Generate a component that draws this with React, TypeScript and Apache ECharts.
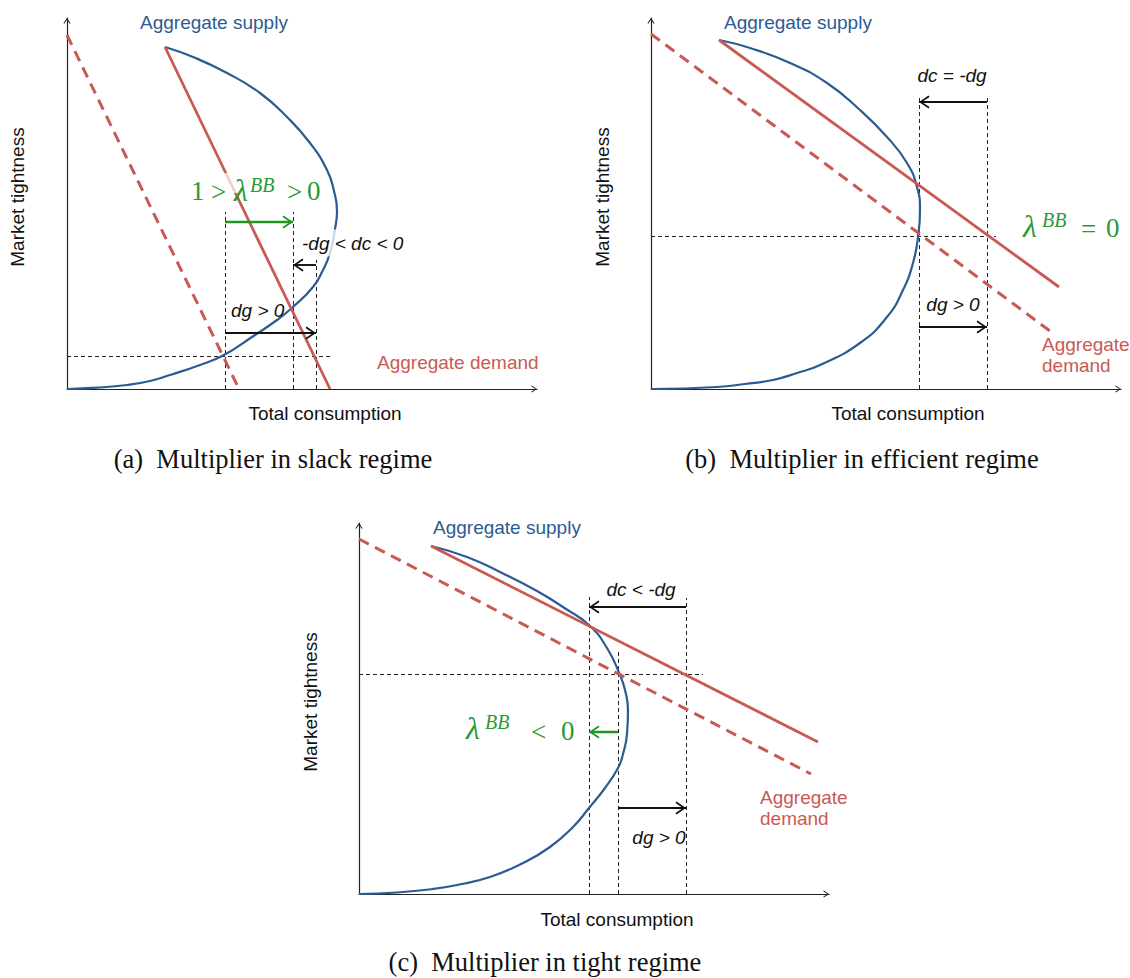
import React, { useEffect, useRef } from "react";
import * as echarts from "echarts";

// ---------------- Panel (a): slack regime ----------------
const supplyAX = [98, 126, 160, 193, 220, 243, 260, 267, 270, 268, 263, 256, 246, 226, 210, 185, 157, 133, 103, 83, 60, 30, 0];
const supplyAY = [342, 332, 316, 296, 272, 246, 219, 198, 178, 160, 136, 119, 102, 82, 69, 52, 34, 24, 14, 8, 4, 1.3, 0];
const demandAX = [98, 263];
const demandAY = [342, 0];
const shiftAX = [0, 172];
const shiftAY = [354, 0];
const levelA = 33;
const levelEndA = 265;
const guideAX = [158, 226, 249];
const guideATop = [177, 177, 129];
const blackArrowAFrom = [158, 249];
const blackArrowATo = [249, 226];
const blackArrowAY = [56, 124];
const greenArrowAFrom = [158];
const greenArrowATo = [226];
const greenArrowAY = [167];

// ---------------- Panel (b): efficient regime ----------------
const supplyBX = [68, 99, 139, 176, 209, 236, 256, 266, 269, 267, 262, 252, 236, 209, 169, 146, 122, 94, 66, 0];
const supplyBY = [349, 341, 326, 306, 279, 252, 226, 202, 179, 152, 126, 99, 72, 46, 24, 16, 9, 5, 2, 0];
const demandBX = [68, 408];
const demandBY = [349, 102];
const shiftBX = [0, 403];
const shiftBY = [355, 55];
const levelB = 153;
const levelEndB = 345;
const guideBX = [268, 336];
const guideBTop = [292, 292];
const blackArrowBFrom = [336, 268];
const blackArrowBTo = [268, 336];
const blackArrowBY = [287, 62];
const greenArrowBFrom: number[] = [];
const greenArrowBTo: number[] = [];
const greenArrowBY: number[] = [];

// ---------------- Panel (c): tight regime ----------------
const supplyCX = [72, 108, 141, 178, 207, 230, 248, 261, 266, 269, 268, 264, 259, 246, 230, 214, 191, 164, 131, 98, 74, 38, 0];
const supplyCY = [348, 337, 322, 303, 285, 269, 246, 219, 204, 184, 160, 140, 126, 106, 86, 67, 47, 31, 17, 9, 5, 1.5, 0];
const demandCX = [72, 459];
const demandCY = [348, 152];
const shiftCX = [0, 452];
const shiftCY = [355, 120];
const levelC = 220;
const levelEndC = 344;
const guideCX = [230, 259, 327];
const guideCTop = [297, 244, 296];
const blackArrowCFrom = [327, 259];
const blackArrowCTo = [230, 327];
const blackArrowCY = [287, 86];
const greenArrowCFrom = [259];
const greenArrowCTo = [230];
const greenArrowCY = [162];

const X_MAX = 470;
const Y_MAX = 371;

const BLUE = "#2c5b94";
const RED = "#c95a53";
const GREEN_LINE = "#1a981f";
const GREEN_TEXT = "#2b9a34";
const BLACK = "#111111";
const SANS = "'Liberation Sans', Arial, Helvetica, sans-serif";
const SERIF = "'Liberation Serif', 'Times New Roman', serif";

// chevron whose tip sits at the centre of its (square) bounding box
const CHEVRON =
  "path://M0,0 L6.5,9.5 L5,10.5 L0,3 L-5,10.5 L-6.5,9.5 Z M-11,-11 L-10.99,-11 L-11,-10.99 Z M11,11 L10.99,11 L11,10.99 Z";

const zip = (xs: number[], ys: number[]) => xs.map((x, i) => [x, ys[i]]);

const panels = [
  {
    grid: { left: 67, top: 18 },
    supply: zip(supplyAX, supplyAY),
    demand: zip(demandAX, demandAY),
    shift: zip(shiftAX, shiftAY),
    level: levelA,
    levelEnd: levelEndA,
    gx: guideAX,
    gtop: guideATop,
    bFrom: blackArrowAFrom,
    bTo: blackArrowATo,
    bY: blackArrowAY,
    gFrom: greenArrowAFrom,
    gTo: greenArrowATo,
    gY: greenArrowAY,
  },
  {
    grid: { left: 651, top: 18 },
    supply: zip(supplyBX, supplyBY),
    demand: zip(demandBX, demandBY),
    shift: zip(shiftBX, shiftBY),
    level: levelB,
    levelEnd: levelEndB,
    gx: guideBX,
    gtop: guideBTop,
    bFrom: blackArrowBFrom,
    bTo: blackArrowBTo,
    bY: blackArrowBY,
    gFrom: greenArrowBFrom,
    gTo: greenArrowBTo,
    gY: greenArrowBY,
  },
  {
    grid: { left: 359, top: 523 },
    supply: zip(supplyCX, supplyCY),
    demand: zip(demandCX, demandCY),
    shift: zip(shiftCX, shiftCY),
    level: levelC,
    levelEnd: levelEndC,
    gx: guideCX,
    gtop: guideCTop,
    bFrom: blackArrowCFrom,
    bTo: blackArrowCTo,
    bY: blackArrowCY,
    gFrom: greenArrowCFrom,
    gTo: greenArrowCTo,
    gY: greenArrowCY,
  },
];

type TxtOpt = {
  size?: number;
  color?: string;
  italic?: boolean;
  family?: string;
  align?: string;
  rotation?: number;
  bg?: string;
  pad?: number[];
};

function txt(text: string, x: number, y: number, o: TxtOpt = {}) {
  const align = o.align || "left";
  const style: any = {
    text,
    fill: o.color || BLACK,
    fontSize: o.size || 19,
    fontFamily: o.family || SANS,
    fontStyle: o.italic ? "italic" : "normal",
    align,
    textAlign: align,
    verticalAlign: "middle",
    textVerticalAlign: "middle",
  };
  if (o.bg) {
    style.backgroundColor = o.bg;
    style.padding = o.pad || [0, 0, 0, 0];
  }
  return {
    type: "text",
    x,
    y,
    rotation: o.rotation || 0,
    z: 100,
    silent: true,
    style,
  };
}

const math = (t: string, x: number, y: number) =>
  txt(t, x, y, { size: 27, family: SERIF, color: GREEN_TEXT });
const lam = (x: number, y: number) =>
  txt("λ", x, y, { size: 32, family: SERIF, color: GREEN_TEXT, italic: true });
const sup = (x: number, y: number) =>
  txt("BB", x, y, { size: 20, family: SERIF, color: GREEN_TEXT, italic: true });

function buildOption() {
  const grid = panels.map((p) => ({
    left: p.grid.left,
    top: p.grid.top,
    width: X_MAX,
    height: Y_MAX,
    containLabel: false,
  }));
  const axisCommon = {
    type: "value",
    min: 0,
    axisTick: { show: false },
    axisLabel: { show: false },
    splitLine: { show: false },
    axisLine: {
      show: true,
      onZero: false,
      symbol: ["none", CHEVRON],
      symbolSize: [12, 12],
      lineStyle: { color: "#222", width: 1.2 },
    },
  };
  const xAxis = panels.map((_, i) => ({ ...axisCommon, gridIndex: i, max: X_MAX }));
  const yAxis = panels.map((_, i) => ({ ...axisCommon, gridIndex: i, max: Y_MAX }));

  const series: any[] = [];
  panels.forEach((p, i) => {
    const ax = { xAxisIndex: i, yAxisIndex: i };
    series.push({
      type: "lines",
      coordinateSystem: "cartesian2d",
      ...ax,
      silent: true,
      z: 1,
      symbol: "none",
      lineStyle: { color: "#222", width: 1, type: [4, 3], opacity: 1, curveness: 0 },
      data: [
        { coords: [[0, p.level], [p.levelEnd, p.level]] },
        ...p.gx.map((x, k) => ({ coords: [[x, 0], [x, p.gtop[k]]] })),
      ],
    });
    series.push({
      type: "line",
      ...ax,
      data: p.supply,
      smooth: 0.5,
      showSymbol: false,
      symbol: "none",
      silent: true,
      z: 3,
      lineStyle: { color: BLUE, width: 2.2 },
    });
    series.push({
      type: "line",
      ...ax,
      data: p.shift,
      showSymbol: false,
      symbol: "none",
      silent: true,
      z: 3,
      lineStyle: { color: RED, width: 3, type: [11, 7] },
    });
    series.push({
      type: "line",
      ...ax,
      data: p.demand,
      showSymbol: false,
      symbol: "none",
      silent: true,
      z: 3,
      lineStyle: { color: RED, width: 2.8 },
    });
    series.push({
      type: "lines",
      coordinateSystem: "cartesian2d",
      ...ax,
      silent: true,
      z: 4,
      symbol: ["none", CHEVRON],
      symbolSize: 22,
      lineStyle: { color: BLACK, width: 1.9, opacity: 1, curveness: 0 },
      data: p.bFrom.map((f, k) => ({ coords: [[f, p.bY[k]], [p.bTo[k], p.bY[k]]] })),
    });
    if (p.gFrom.length) {
      series.push({
        type: "lines",
        coordinateSystem: "cartesian2d",
        ...ax,
        silent: true,
        z: 4,
        symbol: ["none", CHEVRON],
        symbolSize: 22,
        lineStyle: { color: GREEN_LINE, width: 2.4, opacity: 1, curveness: 0 },
        data: p.gFrom.map((f, k) => ({ coords: [[f, p.gY[k]], [p.gTo[k], p.gY[k]]] })),
      });
    }
  });

  const elements: any[] = [
    // ---- panel (a)
    {
      type: "rect",
      z: 50,
      silent: true,
      shape: { x: 224, y: 173, width: 26, height: 20 },
      style: { fill: "rgba(255,255,255,0.72)" },
    },
    txt("Aggregate supply", 140, 22, { color: BLUE }),
    txt("Aggregate demand", 377, 362, { color: RED }),
    txt("Total consumption", 325, 413, { align: "center" }),
    txt("Market tightness", 17.5, 197, { align: "center", rotation: Math.PI / 2 }),
    txt("-dg < dc < 0", 302, 243, { italic: true, bg: "rgba(255,255,255,0.75)", pad: [4, 0, 4, 0] }),
    txt("dg > 0", 231, 310, { italic: true }),
    math("1", 191, 191),
    math(">", 211, 192),
    lam(234, 190),
    sup(250, 185),
    math(">", 287, 192),
    math("0", 307, 191),
    txt("(a)  Multiplier in slack regime", 273, 459, { align: "center", size: 26.5, family: SERIF }),

    // ---- panel (b)
    txt("Aggregate supply", 724, 22, { color: BLUE }),
    txt("Aggregate", 1042, 344, { color: RED }),
    txt("demand", 1042, 365, { color: RED }),
    txt("Total consumption", 908, 413, { align: "center" }),
    txt("Market tightness", 602, 197, { align: "center", rotation: Math.PI / 2 }),
    txt("dc = -dg", 952, 75, { italic: true, align: "center" }),
    txt("dg > 0", 953, 304, { italic: true, align: "center" }),
    lam(1023, 225.5),
    sup(1042, 220),
    math("=", 1081, 229),
    math("0", 1106, 228),
    txt("(b)  Multiplier in efficient regime", 862, 459, { align: "center", size: 26.5, family: SERIF }),

    // ---- panel (c)
    txt("Aggregate supply", 433, 527, { color: BLUE }),
    txt("Aggregate", 760, 797, { color: RED }),
    txt("demand", 760, 818, { color: RED }),
    txt("Total consumption", 617, 919, { align: "center" }),
    txt("Market tightness", 310, 702, { align: "center", rotation: Math.PI / 2 }),
    txt("dc < -dg", 641, 589, { italic: true, align: "center" }),
    txt("dg > 0", 659, 837, { italic: true, align: "center" }),
    lam(466, 728),
    sup(485, 722),
    math("<", 531, 732),
    math("0", 561, 731),
    txt("(c)  Multiplier in tight regime", 545, 962, { align: "center", size: 26.5, family: SERIF }),
  ];

  return {
    animation: false,
    backgroundColor: "#ffffff",
    textStyle: { fontFamily: SANS },
    grid,
    xAxis,
    yAxis,
    series,
    graphic: { elements },
  };
}

export default function App() {
  const ref = useRef<HTMLDivElement>(null);
  useEffect(() => {
    if (!ref.current) return;
    const chart = echarts.init(ref.current, undefined, { renderer: "svg" });
    chart.setOption(buildOption() as any);
    return () => {
      chart.dispose();
    };
  }, []);
  return (
    <div
      ref={ref}
      style={{ position: "fixed", left: 0, top: 0, width: 1130, height: 978, background: "#fff" }}
    />
  );
}
